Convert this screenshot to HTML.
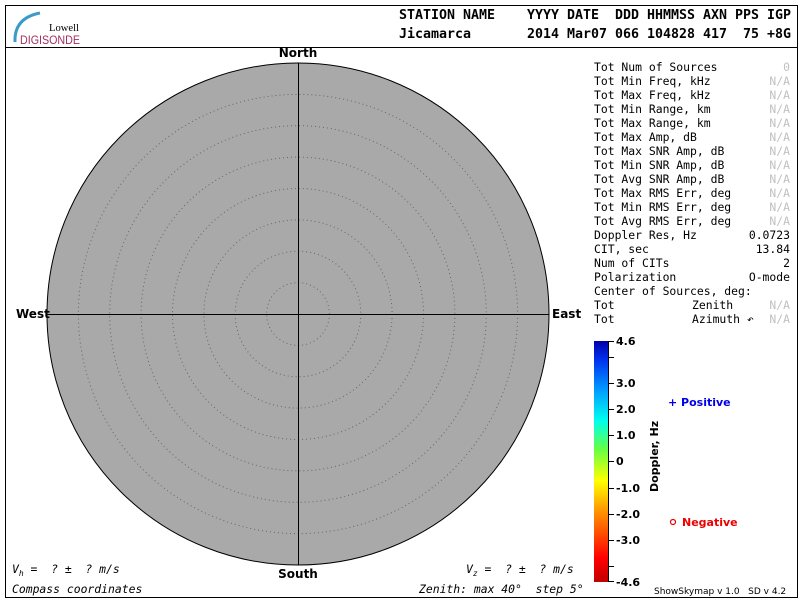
<!DOCTYPE html>
<html><head><meta charset="utf-8"><style>
body{margin:0;background:#fff;}
svg{display:block;}
.m{font-family:"DejaVu Sans Mono","Liberation Mono",monospace;font-size:11.4px;fill:#000;}
.g{fill:#c0c0c0;}
.h{font-family:"DejaVu Sans Mono","Liberation Mono",monospace;font-size:13px;font-weight:bold;}
.b{font-family:"DejaVu Sans","Liberation Sans",sans-serif;font-size:12px;font-weight:bold;}
.t{font-family:"DejaVu Sans","Liberation Sans",sans-serif;font-size:11px;font-weight:bold;}
</style></head><body>
<svg width="800" height="600" xmlns="http://www.w3.org/2000/svg">
<defs>
<linearGradient id="cb" x1="0" y1="1" x2="0" y2="0">
<stop offset="0" stop-color="#c00000"/>
<stop offset="0.1" stop-color="#ff0000"/>
<stop offset="0.3" stop-color="#ff9900"/>
<stop offset="0.42" stop-color="#ffff00"/>
<stop offset="0.55" stop-color="#66ff44"/>
<stop offset="0.67" stop-color="#00ffee"/>
<stop offset="0.8" stop-color="#0099ff"/>
<stop offset="0.92" stop-color="#0033ee"/>
<stop offset="1" stop-color="#0000aa"/>
</linearGradient>
</defs>
<rect x="5.5" y="5.5" width="792" height="592" fill="none" stroke="#000"/>
<line x1="5" y1="47.5" x2="798" y2="47.5" stroke="#000"/>
<!-- logo -->
<path d="M15 42 Q14 18 40 13" fill="none" stroke="#3a9ac9" stroke-width="3"/>
<text x="49" y="31" font-family="Liberation Serif,serif" font-size="11" textLength="30" lengthAdjust="spacingAndGlyphs">Lowell</text>
<text x="20" y="44" font-family="Liberation Sans,sans-serif" font-size="12" fill="#a0305f" textLength="60" lengthAdjust="spacingAndGlyphs">DIGISONDE</text>
<text x="399" y="19" class="h" textLength="392" lengthAdjust="spacingAndGlyphs" xml:space="preserve">STATION NAME    YYYY DATE  DDD HHMMSS AXN PPS IGP</text>
<text x="399" y="38" class="h" textLength="392" lengthAdjust="spacingAndGlyphs" xml:space="preserve">Jicamarca       2014 Mar07 066 104828 417  75 +8G</text>
<!-- plot -->
<circle cx="298" cy="314" r="251" fill="#a9a9a9" stroke="#000" stroke-width="1"/>
<g fill="none" stroke="#666" stroke-width="1" stroke-dasharray="1,3">
<circle cx="298" cy="314" r="31.4"/><circle cx="298" cy="314" r="62.8"/><circle cx="298" cy="314" r="94.1"/><circle cx="298" cy="314" r="125.5"/><circle cx="298" cy="314" r="156.9"/><circle cx="298" cy="314" r="188.3"/><circle cx="298" cy="314" r="219.6"/>
</g>
<line x1="298.5" y1="63" x2="298.5" y2="565" stroke="#000"/>
<line x1="47" y1="314.5" x2="549" y2="314.5" stroke="#000"/>
<text x="298" y="57" class="b" text-anchor="middle">North</text>
<text x="298" y="578" class="b" text-anchor="middle">South</text>
<text x="16" y="318" class="b">West</text>
<text x="552" y="318" class="b">East</text>
<text x="12" y="573" class="m" font-style="italic" xml:space="preserve">V<tspan font-size="8" dy="3">h</tspan><tspan dy="-3"> =  ? ±  ? m/s</tspan></text>
<text x="466" y="573" class="m" font-style="italic" xml:space="preserve">V<tspan font-size="8" dy="3">z</tspan><tspan dy="-3"> =  ? ±  ? m/s</tspan></text>
<text x="12" y="593" class="m" font-style="italic">Compass coordinates</text>
<text x="419" y="593" class="m" font-style="italic" xml:space="preserve">Zenith: max 40°  step 5°</text>
<!-- stats -->
<g class="m">
<text x="594" y="71">Tot Num of Sources</text><text x="790" y="71" text-anchor="end" class="g">0</text>
<text x="594" y="85">Tot Min Freq, kHz</text><text x="790" y="85" text-anchor="end" class="g">N/A</text>
<text x="594" y="99">Tot Max Freq, kHz</text><text x="790" y="99" text-anchor="end" class="g">N/A</text>
<text x="594" y="113">Tot Min Range, km</text><text x="790" y="113" text-anchor="end" class="g">N/A</text>
<text x="594" y="127">Tot Max Range, km</text><text x="790" y="127" text-anchor="end" class="g">N/A</text>
<text x="594" y="141">Tot Max Amp, dB</text><text x="790" y="141" text-anchor="end" class="g">N/A</text>
<text x="594" y="155">Tot Max SNR Amp, dB</text><text x="790" y="155" text-anchor="end" class="g">N/A</text>
<text x="594" y="169">Tot Min SNR Amp, dB</text><text x="790" y="169" text-anchor="end" class="g">N/A</text>
<text x="594" y="183">Tot Avg SNR Amp, dB</text><text x="790" y="183" text-anchor="end" class="g">N/A</text>
<text x="594" y="197">Tot Max RMS Err, deg</text><text x="790" y="197" text-anchor="end" class="g">N/A</text>
<text x="594" y="211">Tot Min RMS Err, deg</text><text x="790" y="211" text-anchor="end" class="g">N/A</text>
<text x="594" y="225">Tot Avg RMS Err, deg</text><text x="790" y="225" text-anchor="end" class="g">N/A</text>
<text x="594" y="239">Doppler Res, Hz</text><text x="790" y="239" text-anchor="end">0.0723</text>
<text x="594" y="253">CIT, sec</text><text x="790" y="253" text-anchor="end">13.84</text>
<text x="594" y="267">Num of CITs</text><text x="790" y="267" text-anchor="end">2</text>
<text x="594" y="281">Polarization</text><text x="790" y="281" text-anchor="end">O-mode</text>
<text x="594" y="295">Center of Sources, deg:</text>
<text x="594" y="309">Tot</text><text x="692" y="309">Zenith</text><text x="790" y="309" text-anchor="end" class="g">N/A</text>
<text x="594" y="323">Tot</text><text x="692" y="323">Azimuth ↶</text><text x="790" y="323" text-anchor="end" class="g">N/A</text>
</g>
<!-- colorbar -->
<rect x="594" y="341" width="14" height="241" fill="url(#cb)"/>
<line x1="608.5" y1="341" x2="608.5" y2="582" stroke="#000"/>
<g stroke="#000">
<line x1="608" y1="341.5" x2="614" y2="341.5"/><line x1="608" y1="357.5" x2="614" y2="357.5"/><line x1="608" y1="383.5" x2="614" y2="383.5"/><line x1="608" y1="409.5" x2="614" y2="409.5"/><line x1="608" y1="435.5" x2="614" y2="435.5"/><line x1="608" y1="461.5" x2="614" y2="461.5"/><line x1="608" y1="488.5" x2="614" y2="488.5"/><line x1="608" y1="514.5" x2="614" y2="514.5"/><line x1="608" y1="540.5" x2="614" y2="540.5"/><line x1="608" y1="566.5" x2="614" y2="566.5"/><line x1="608" y1="581.5" x2="614" y2="581.5"/>
</g>
<g class="t">
<text x="616" y="345">4.6</text><text x="616" y="387">3.0</text><text x="616" y="413">2.0</text><text x="616" y="439">1.0</text><text x="616" y="465">0</text><text x="616" y="492">-1.0</text><text x="616" y="518">-2.0</text><text x="616" y="544">-3.0</text><text x="616" y="586">-4.6</text>
</g>
<text class="t" font-size="10" transform="translate(658,492) rotate(-90)">Doppler, Hz</text>
<text x="668" y="406" class="t" fill="#0000ee">+ Positive</text>
<circle cx="673" cy="522" r="2.5" fill="none" stroke="#ee0000" stroke-width="1.2"/>
<text x="682" y="526" class="t" fill="#ee0000">Negative</text>
<text x="654" y="594" font-family="DejaVu Sans,sans-serif" font-size="9" xml:space="preserve">ShowSkymap v 1.0   SD v 4.2</text>
</svg>
</body></html>
